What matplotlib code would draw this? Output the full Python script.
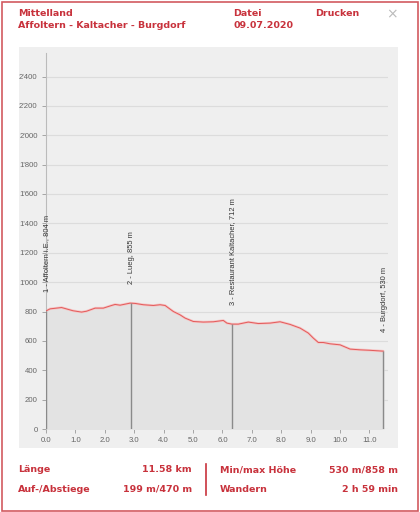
import matplotlib.pyplot as plt
from matplotlib.patches import Rectangle
from matplotlib.lines import Line2D
from matplotlib.ticker import FuncFormatter

# elevation profile (km, m)
dist = [0.0, 0.14, 0.53, 0.92, 1.21, 1.38, 1.67, 1.95, 2.23, 2.35, 2.52, 2.86, 3.03,
        3.31, 3.65, 3.88, 4.05, 4.33, 4.56, 4.73, 5.01, 5.35, 5.69, 6.03, 6.15,
        6.32, 6.54, 6.88, 7.22, 7.62, 7.96, 8.30, 8.64, 8.92, 9.09, 9.26, 9.43,
        9.66, 10.0, 10.34, 10.68, 11.0, 11.47]
elev = [804, 818, 827, 805, 796, 802, 823, 823, 841, 848, 843, 857, 855,
        846, 841, 846, 841, 800, 777, 755, 732, 728, 730, 739, 721,
        714, 714, 728, 718, 721, 730, 712, 687, 653, 619, 589, 589,
        580, 573, 544, 539, 536, 530]

wp_km = [0.0, 2.88, 6.31, 11.47]
wp_elev = [804, 855, 712, 530]
wp_names = ['1 - Affoltern i.E., 804 m', '2 - Lueg, 855 m',
            '3 - Restaurant Kaltacher, 712 m', '4 - Burgdorf, 530 m']

xticks = [0, 1, 2, 3, 4, 5, 6, 7, 8, 9, 10, 11]
yticks = [0, 200, 400, 600, 800, 1000, 1200, 1400, 1600, 1800, 2000, 2200, 2400]

red = '#c8323c'
panel = '#efefef'
small = 'Liberation Sans'

fig = plt.figure(figsize=(4.2, 5.12), dpi=100)
fig.patch.set_facecolor('white')

# outer border and grey panel
fig.patches.append(Rectangle((1.5 / 420, 1.5 / 512), 416 / 420, 509 / 512, transform=fig.transFigure,
                             fill=False, edgecolor='#d25a60', lw=1.2, zorder=-2))
fig.patches.append(Rectangle((19 / 420, 1 - 448 / 512), 379 / 420, 401 / 512, transform=fig.transFigure,
                             facecolor=panel, edgecolor='none', zorder=-1))

ax = fig.add_axes([46 / 420, 1 - 429 / 512, 342 / 420, 376 / 512])
ax.set_zorder(1)
ax.set_facecolor(panel)
ax.set_xlim(0, 11.63)
ax.set_ylim(0, 2560)

ax.fill_between(dist, elev, 0, color='#e3e3e3', zorder=1)
ax.plot(dist, elev, color='#f6c4c4', lw=1.8, zorder=2, solid_capstyle='round')
ax.plot(dist, elev, color='#e25a5a', lw=0.7, zorder=3)

for k, e, name in zip(wp_km, wp_elev, wp_names):
    ax.vlines(k, 0, e, color='#8a8a8a', lw=1.0, zorder=4)
    ax.annotate(name, (k, e), xytext=(1, 19), textcoords='offset pixels', family=small,
                rotation=90, ha='center', va='bottom', fontsize=5.4, color='#333333')

ax.set_xticks(xticks)
ax.set_yticks(yticks)
ax.xaxis.set_major_formatter(FuncFormatter(lambda v, p: '%.1f' % v))
ax.yaxis.set_major_formatter(FuncFormatter(lambda v, p: format(int(v), ',').replace(',', "'")))
ax.grid(axis='y', color='#dcdcdc', lw=0.8, zorder=0)
ax.set_axisbelow(True)
ax.tick_params(axis='both', labelsize=5.6, colors='#999999', labelcolor='#666666', length=3, width=0.6, pad=3)
for lab in ax.get_xticklabels() + ax.get_yticklabels():
    lab.set_family(small)
for s in ['top', 'right', 'bottom']:
    ax.spines[s].set_visible(False)
ax.spines['left'].set_color('#bbbbbb')
ax.spines['left'].set_linewidth(0.8)

# header
fs = 6.8
fig.text(18 / 420, 1 - 13 / 512, 'Mittelland', color=red, fontsize=fs, fontweight='bold', va='center')
fig.text(18 / 420, 1 - 26 / 512, 'Affoltern - Kaltacher - Burgdorf', color=red, fontsize=fs, fontweight='bold', va='center')
fig.text(233 / 420, 1 - 13 / 512, 'Datei', color=red, fontsize=fs, fontweight='bold', va='center')
fig.text(233 / 420, 1 - 26 / 512, '09.07.2020', color=red, fontsize=fs, fontweight='bold', va='center')
fig.text(315 / 420, 1 - 13 / 512, 'Drucken', color=red, fontsize=fs, fontweight='bold', va='center')
fig.text(392 / 420, 1 - 14 / 512, '×', color='#bbbbbb', fontsize=10, ha='center', va='center')

# footer
fig.text(18 / 420, 1 - 470 / 512, 'Länge', color=red, fontsize=fs, fontweight='bold', va='center')
fig.text(192 / 420, 1 - 470 / 512, '11.58 km', color=red, fontsize=fs, fontweight='bold', va='center', ha='right')
fig.text(18 / 420, 1 - 489 / 512, 'Auf-/Abstiege', color=red, fontsize=fs, fontweight='bold', va='center')
fig.text(192 / 420, 1 - 489 / 512, '199 m/470 m', color=red, fontsize=fs, fontweight='bold', va='center', ha='right')
fig.text(220 / 420, 1 - 470 / 512, 'Min/max Höhe', color=red, fontsize=fs, fontweight='bold', va='center')
fig.text(398 / 420, 1 - 470 / 512, '530 m/858 m', color=red, fontsize=fs, fontweight='bold', va='center', ha='right')
fig.text(220 / 420, 1 - 489 / 512, 'Wandern', color=red, fontsize=fs, fontweight='bold', va='center')
fig.text(398 / 420, 1 - 489 / 512, '2 h 59 min', color=red, fontsize=fs, fontweight='bold', va='center', ha='right')
fig.lines.append(Line2D([206 / 420, 206 / 420], [1 - 464 / 512, 1 - 495 / 512], transform=fig.transFigure,
                        color=red, lw=1.2))

fig.savefig('out.png', dpi=100)
